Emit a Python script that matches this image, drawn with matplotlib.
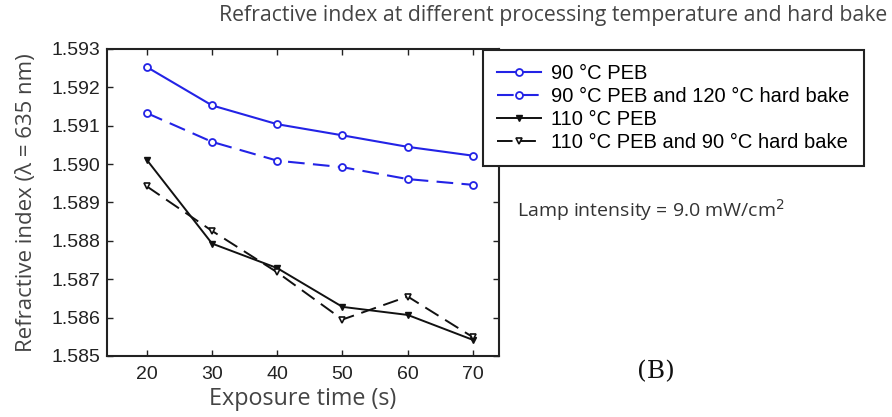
import matplotlib
matplotlib.use("Agg")
import matplotlib.pyplot as plt

# exposure time (s)
exposure = [20, 30, 40, 50, 60, 70]

# refractive index
peb90 = [1.59253, 1.59153, 1.59104, 1.59075, 1.59045, 1.59022]
peb90_hb120 = [1.59133, 1.59058, 1.59009, 1.58992, 1.58961, 1.58946]
peb110 = [1.59011, 1.58793, 1.58729, 1.58628, 1.58607, 1.58542]
peb110_hb90 = [1.58942, 1.58826, 1.58718, 1.58595, 1.58655, 1.58549]

labels = ["90 \u00b0C PEB", "90 \u00b0C PEB and 120 \u00b0C hard bake",
          "110 \u00b0C PEB", "110 \u00b0C PEB and 90 \u00b0C hard bake"]
yticks = [1.585, 1.586, 1.587, 1.588, 1.589, 1.590, 1.591, 1.592, 1.593]
xticks = [20, 30, 40, 50, 60, 70]

blue = "#2323e6"
fig = plt.figure(figsize=(8.92, 4.17), dpi=100)
ax = fig.add_axes([0.12, 0.1463, 0.4394, 0.7362])

ax.plot(exposure, peb90, color=blue, lw=1.5, marker="o", ms=5, mfc="white",
        mew=1.3, label=labels[0])
ax.plot(exposure, peb90_hb120, color=blue, lw=1.5, ls=(0, (8, 4)), marker="o",
        ms=5, mfc="white", mew=1.3, label=labels[1])
ax.plot(exposure, peb110, color="#111111", lw=1.4, marker="v", ms=5,
        mfc="#111111", label=labels[2])
ax.plot(exposure, peb110_hb90, color="#111111", lw=1.4, ls=(0, (8, 4)),
        marker="v", ms=5, mfc="white", mew=1.2, label=labels[3])

ax.set_xlim(13.9, 74)
ax.set_ylim(1.585, 1.593)
ax.set_xticks(xticks)
ax.set_yticks(yticks)
ax.set_yticklabels(["%.3f" % v for v in yticks])
ax.tick_params(direction="in", top=True, right=True, length=4, width=1,
               labelsize=14, colors="#222222", pad=5)
ax.tick_params(axis="x", pad=7)
for t in ax.get_xticklabels() + ax.get_yticklabels():
    t.set_family("Liberation Sans")
for s in ax.spines.values():
    s.set_linewidth(1.5)
    s.set_color("#222222")

ax.set_xlabel("Exposure time (s)", fontsize=16.8, color="#444444",
              family="Open Sans", labelpad=3)
ax.set_ylabel("Refractive index (\u03bb = 635 nm)", fontsize=16,
              color="#444444", family="Open Sans", labelpad=10)
fig.text(0.62, 0.962, "Refractive index at different processing temperature and hard bake",
         ha="center", va="center", fontsize=15.3, color="#444444", family="Open Sans")

leg = ax.legend(loc="upper left", bbox_to_anchor=(0.5415, 0.88),
                bbox_transform=fig.transFigure, frameon=True,
                prop={"family": "Liberation Sans", "size": 14.5},
                fancybox=False, framealpha=1, edgecolor="#222222",
                handlelength=2.2, handletextpad=0.5, labelspacing=0.2,
                borderpad=0.7, borderaxespad=0)
leg.get_frame().set_linewidth(1.5)
leg.set_zorder(5)

fig.text(0.58, 0.497, "Lamp intensity = 9.0 mW/cm$^2$", fontsize=14,
         color="#333333", family="Open Sans", va="center")
fig.text(0.735, 0.108, "(B)", fontsize=18, family="DejaVu Serif",
         ha="center", va="center", color="#111111")

fig.savefig("out.png", dpi=100)
